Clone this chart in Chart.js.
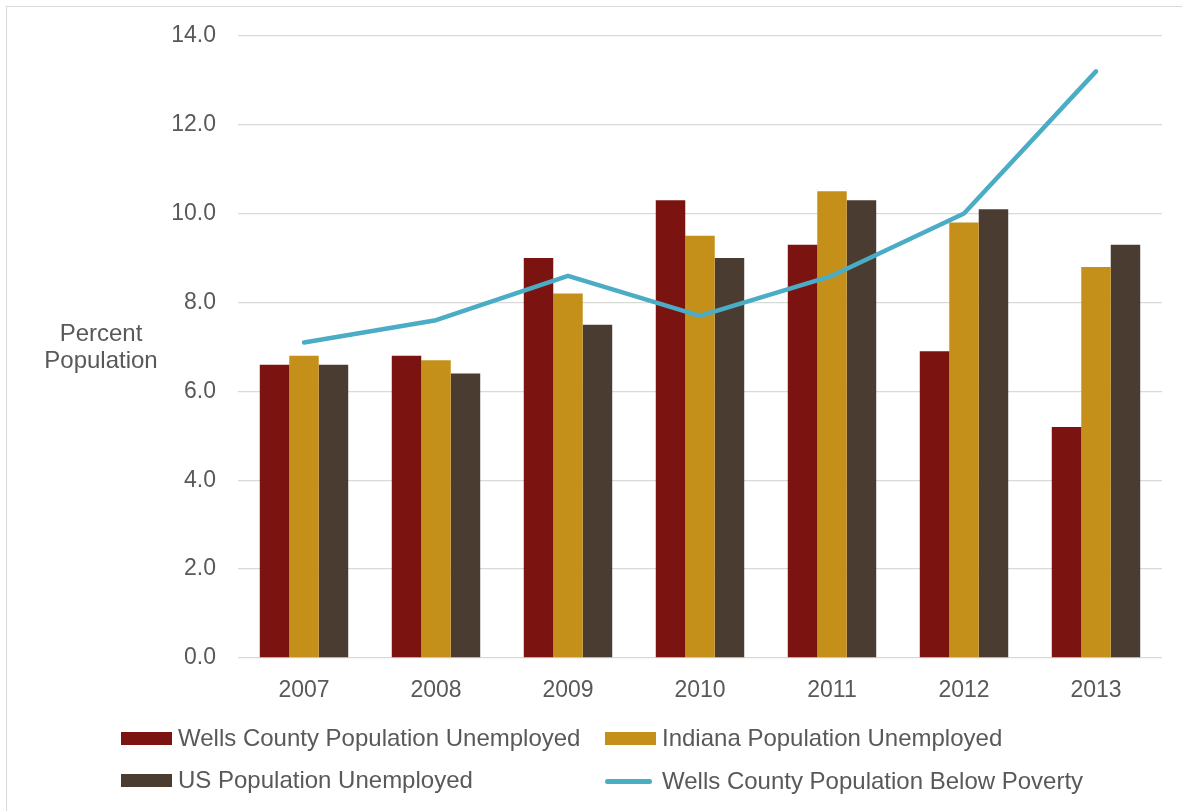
<!DOCTYPE html>
<html>
<head>
<meta charset="utf-8">
<script src="https://cdn.jsdelivr.net/npm/chart.js@4/dist/chart.umd.min.js"></script>
<style>
  html, body { margin: 0; padding: 0; background: #fff; overflow: hidden; }
  body { width: 1182px; height: 811px; position: relative; font-family: "Liberation Sans", Arial, sans-serif; }
  #frame { position: absolute; left: 6px; top: 6px; width: 1200px; height: 830px; border: 1px solid #d9d9d9; }
  #myChart { position: absolute; left: 0; top: 0; }
  .leg { position: absolute; font-size: 24px; color: #595959; line-height: 28px; white-space: nowrap; }
  .sw { position: absolute; }
</style>
</head>
<body>
<div id="frame"></div>
<canvas id="myChart" width="1182" height="811" style="width:1182px;height:811px"></canvas>
<div id="legend"></div>
<script>
// values
const years = ['2007', '2008', '2009', '2010', '2011', '2012', '2013'];
const wellsUnemployed = [6.6, 6.8, 9.0, 10.3, 9.3, 6.9, 5.2];
const indianaUnemployed = [6.8, 6.7, 8.2, 9.5, 10.5, 9.8, 8.8];
const usUnemployed = [6.6, 6.4, 7.5, 9.0, 10.3, 10.1, 9.3];
const wellsPoverty = [7.1, 7.6, 8.6, 7.7, 8.6, 10.0, 13.2];

const textColor = '#595959';
const gridColor = '#d9d9d9';

// y axis title, written flat like the original
const yTitle = {
  id: 'yTitle',
  afterDraw(chart) {
    const ctx = chart.ctx;
    ctx.save();
    ctx.font = '24px "Liberation Sans", Arial, sans-serif';
    ctx.fillStyle = textColor;
    ctx.textAlign = 'center';
    ctx.textBaseline = 'middle';
    ctx.fillText('Percent', 101, 334);
    ctx.fillText('Population', 101, 361);
    ctx.restore();
  }
};

const ctx = document.getElementById('myChart');
const chart = new Chart(ctx, {
  type: 'bar',
  data: {
    labels: years,
    datasets: [
      { label: 'Wells County Population Unemployed', data: wellsUnemployed, backgroundColor: '#7b1310', order: 1 },
      { label: 'Indiana Population Unemployed', data: indianaUnemployed, backgroundColor: '#c4901a', order: 1 },
      { label: 'US Population Unemployed', data: usUnemployed, backgroundColor: '#4a3c31', order: 1 },
      { type: 'line', label: 'Wells County Population Below Poverty', data: wellsPoverty,
        borderColor: '#4bacc6', backgroundColor: '#4bacc6', borderWidth: 4.5,
        pointRadius: 0, tension: 0, borderCapStyle: 'round', borderJoinStyle: 'round', order: 0 }
    ]
  },
  options: {
    responsive: false,
    maintainAspectRatio: false,
    animation: false,
    devicePixelRatio: 1,
    layout: { padding: { top: 35, right: 20, bottom: 103, left: 0 } },
    datasets: { bar: { categoryPercentage: 0.67, barPercentage: 1.0 } },
    plugins: { legend: { display: false }, tooltip: { enabled: false } },
    scales: {
      x: {
        grid: { display: false },
        border: { display: false },
        ticks: { color: textColor, font: { size: 23, family: '"Liberation Sans", Arial, sans-serif' }, padding: 11 },
        afterFit(scale) { scale.height = 50; }
      },
      y: {
        min: 0, max: 14,
        grid: { color: gridColor, lineWidth: 1.3, drawTicks: false },
        border: { display: false },
        ticks: {
          stepSize: 2, color: textColor, padding: 22,
          font: { size: 23, family: '"Liberation Sans", Arial, sans-serif' },
          callback: v => Number(v).toFixed(1)
        },
        afterFit(scale) { scale.width = 238; }
      }
    }
  },
  plugins: [yTitle]
});

// legend as a 2x2 grid like the original
const legendItems = [
  { label: chart.data.datasets[0].label, color: '#7b1310', kind: 'box', x: 121, y: 738 },
  { label: chart.data.datasets[1].label, color: '#c4901a', kind: 'box', x: 605, y: 738 },
  { label: chart.data.datasets[2].label, color: '#4a3c31', kind: 'box', x: 121, y: 780 },
  { label: chart.data.datasets[3].label, color: '#4bacc6', kind: 'line', x: 605, y: 781 }
];
let html = '';
legendItems.forEach(it => {
  if (it.kind === 'box') {
    html += `<div class="sw" style="left:${it.x}px;top:${it.y - 6}px;width:51px;height:13px;background:${it.color}"></div>`;
  } else {
    html += `<div class="sw" style="left:${it.x}px;top:${it.y - 2}px;width:47px;height:5px;border-radius:3px;background:${it.color}"></div>`;
  }
  html += `<div class="leg" style="left:${it.x + 57}px;top:${it.y - 14}px">${it.label}</div>`;
});
document.getElementById('legend').innerHTML = html;
</script>
</body>
</html>
